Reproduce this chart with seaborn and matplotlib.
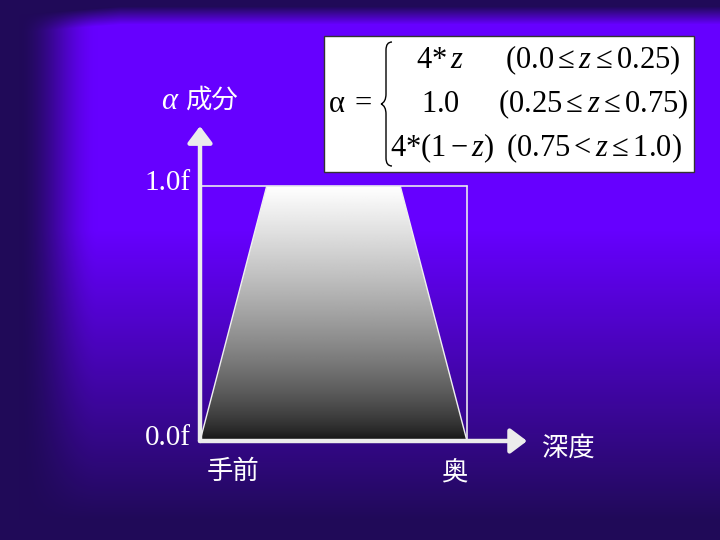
import numpy as np
import matplotlib
matplotlib.use("Agg")
import matplotlib.pyplot as plt
from matplotlib.path import Path
from matplotlib.patches import PathPatch, Rectangle
import seaborn as sns

# ---- data ----
depth = [0.0, 0.25, 0.75, 1.0]
alpha_vals = [0.0, 1.0, 1.0, 0.0]
y_ticks = [0.0, 1.0]
y_tick_labels = ["0.0f", "1.0f"]
x_ticks = [0.0, 1.0]
x_tick_labels = ["手前", "奥"]
x_title = "深度"
y_title = "成分"
formula_cases = [r"$4\mathrm{*}\,z$", r"$1.0$", r"$4\mathrm{*}(1-z)$"]
formula_conds = [r"$(0.0\leq z\leq 0.25)$", r"$(0.25\leq z\leq 0.75)$",
                 r"$(0.75<z\leq 1.0)$"]

sns.set_theme(style="white")
plt.rcParams['font.family'] = ['Noto Sans CJK JP', 'DejaVu Sans']
plt.rcParams['mathtext.fontset'] = 'custom'
plt.rcParams['mathtext.rm'] = 'Liberation Serif'
plt.rcParams['mathtext.it'] = 'Liberation Serif:italic'
plt.rcParams['mathtext.bf'] = 'Liberation Serif:bold'

W, H = 720, 540
fig = plt.figure(figsize=(7.2, 5.4), dpi=100)

# ---- background (pixel coords) ----
bg = fig.add_axes([0, 0, 1, 1])
bg.set_xlim(0, W)
bg.set_ylim(H, 0)
bg.set_axis_off()
yy, xx = np.mgrid[0:H, 0:W].astype(float)
bright = np.array([0x66, 0x00, 0xff]) / 255
dark = np.array([0x20, 0x0a, 0x58]) / 255
wv = 1 - np.clip((yy - 230) / 290, 0, 1)
wh = np.clip((xx - 18) / 80, 0, 1)
wh = wh * wh * (3 - 2 * wh)
wt = np.clip((yy - 6 - 0.08 * np.clip(120 - xx, 0, None)) / 18, 0, 1)
w = (wv * wh * wt)[..., None]
img = dark + (bright - dark) * w
bg.imshow(img, extent=[0, W, H, 0], aspect='auto', zorder=0)

# formula box
bg.add_patch(Rectangle((324, 36), 370, 136, facecolor='white', edgecolor='#333333', lw=1, zorder=2))
bg.text(328, 104, r"$\mathrm{\alpha}\;=$", fontsize=22, ha='left', va='center', zorder=3, color='black')
# brace
bx, top, mid, bot = 386, 42, 104, 166
verts = [(bx + 6, top), (bx, top), (bx, top + 8), (bx, mid - 10), (bx, mid - 2), (bx - 5, mid),
         (bx - 5, mid), (bx, mid + 2), (bx, mid + 10), (bx, bot - 8), (bx, bot), (bx + 6, bot)]
codes = [Path.MOVETO, Path.CURVE3, Path.CURVE3, Path.LINETO, Path.CURVE3, Path.CURVE3,
         Path.MOVETO, Path.CURVE3, Path.CURVE3, Path.LINETO, Path.CURVE3, Path.CURVE3]
bg.add_patch(PathPatch(Path(verts, codes), fill=False, lw=1.0, edgecolor='black', zorder=3))
row_y = [60, 104, 148]
case_x = [440, 440, 442]
cond_x = [593, 593, 594]
for ry, cx, kx, c, k in zip(row_y, case_x, cond_x, formula_cases, formula_conds):
    bg.text(cx, ry, c, fontsize=22, ha='center', va='center', color='black', zorder=3)
    bg.text(kx, ry, k, fontsize=22, ha='center', va='center', color='black', zorder=3)

# ---- main axes: data 0..1 maps to pixels x 200..467, y 441..186 ----
ax = fig.add_axes([200 / W, (H - 441) / H, 267 / W, 255 / H])
ax.set_xlim(0, 1)
ax.set_ylim(0, 1)
ax.set_axis_off()
ax.patch.set_alpha(0)

poly = ax.fill_between(depth, alpha_vals, 0, facecolor='none', edgecolor='none')
t = np.linspace(0, 1, 256)
grad = (0.06 + 0.94 * t ** 0.7).reshape(-1, 1)
im = ax.imshow(grad, extent=[0, 1, 0, 1], origin='lower', cmap='gray', vmin=0, vmax=1,
               aspect='auto', zorder=1)
clip = poly.get_paths()[0]
im.set_clip_path(clip, transform=ax.transData)
sns.lineplot(x=depth, y=alpha_vals, ax=ax, color='#f0f0f0', lw=1.0, sort=False, zorder=2)

# frame lines
ax.plot([0, 1], [y_ticks[1], y_ticks[1]], color='#e8e8ee', lw=1.2, zorder=3, clip_on=False)
ax.plot([1, 1], [0, y_ticks[1]], color='#e8e8ee', lw=1.2, zorder=3, clip_on=False)

# axis arrows
arrow_style = '-|>,head_length=0.4,head_width=0.3'
ax.annotate('', xy=(0, 1.235), xytext=(0, 0),
            arrowprops=dict(arrowstyle=arrow_style, lw=3.2, color='#ececec', mutation_scale=25,
                            shrinkA=0, shrinkB=0), annotation_clip=False, zorder=4)
ax.annotate('', xy=(1.225, 0), xytext=(0, 0),
            arrowprops=dict(arrowstyle=arrow_style, lw=3.2, color='#ececec', mutation_scale=25,
                            shrinkA=0, shrinkB=0), annotation_clip=False, zorder=4)

# tick labels
serif = 'Liberation Serif'
for yv, lab in zip(y_ticks, y_tick_labels):
    ax.text(-0.035, yv + 0.01, lab, fontsize=21, family=serif, color='white',
            ha='right', va='center', clip_on=False)
ax.text(x_ticks[0] + 0.026, -0.12, x_tick_labels[0], fontsize=19, color='white',
        ha='left', va='center', clip_on=False)
ax.text(x_ticks[1], -0.12, x_tick_labels[1], fontsize=19, color='white',
        ha='right', va='center', clip_on=False)
ax.text(1.28, -0.027, x_title, fontsize=19, color='white', ha='left', va='center', clip_on=False)
ax.text(-0.078, 1.335, r"$\alpha$", fontsize=22, color='white', ha='right', va='center', clip_on=False)
ax.text(-0.056, 1.335, y_title, fontsize=19, color='white', ha='left', va='center', clip_on=False)

fig.savefig('out.png', dpi=100)
